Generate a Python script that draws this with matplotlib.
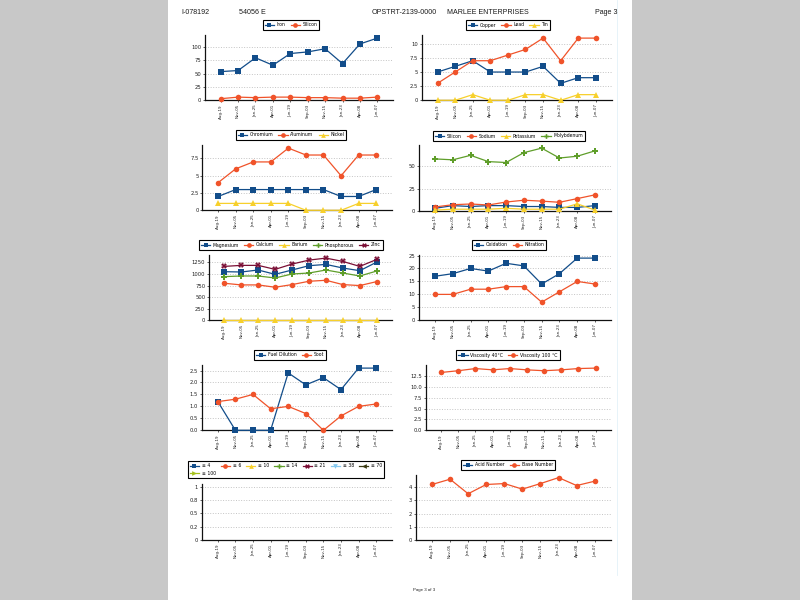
import matplotlib
matplotlib.use('Agg')
import numpy as np
import matplotlib.pyplot as plt
from matplotlib.patches import Rectangle
from matplotlib.lines import Line2D

# ---------------- data ----------------
dates = ['Aug-19', 'Nov-05', 'Jan-25', 'Apr-01', 'Jun-19', 'Sep-03', 'Nov-15', 'Jan-23', 'Apr-08', 'Jun-07']
N = None

iron = [54, 56, 80, 66, 88, 91, 97, 69, 106, 117]
silicon = [3, 6, 5, 6, 6, 5, 5, 4, 4, 6]

copper = [5, 6, 7, 5, 5, 5, 6, 3, 4, 4]
lead = [3, 5, 7, 7, 8, 9, 11, 7, 11, 11]
tin = [0, 0, 1, 0, 0, 1, 1, 0, 1, 1]

chromium = [2, 3, 3, 3, 3, 3, 3, 2, 2, 3]
aluminum = [4, 6, 7, 7, 9, 8, 8, 5, 8, 8]
nickel = [1, 1, 1, 1, 1, 0, 0, 0, 1, 1]

silicon2 = [3, 6, 5, 6, 6, 5, 5, 4, 4, 6]
sodium = [4.5, 7, 7.8, 6.7, 10, 12, 11, 9.7, 13.8, 18]
potassium = [1, 2, 2, 2, 3, 2, 2, 2, 8, 1]
molybdenum = [58, 57, 62, 55, 54, 65, 70, 59, 61, 67]

magnesium = [1050, 1043, 1086, 993, 1086, 1179, 1207, 1129, 1071, 1257]
calcium = [800, 764, 764, 714, 771, 843, 864, 771, 750, 836]
barium = [0, 0, 0, 0, 0, 0, 0, 0, 0, 0]
phosphorous = [943, 957, 957, 914, 1000, 1021, 1086, 1021, 957, 1064]
zinc = [1164, 1186, 1186, 1100, 1214, 1300, 1343, 1271, 1164, 1314]

oxidation = [17, 18, 20, 19, 22, 21, 14, 18, 24, 24]
nitration = [10, 10, 12, 12, 13, 13, 7, 11, 15, 14]

fuel_dilution = [1.2, 0, 0, 0, 2.4, 1.9, 2.2, 1.7, 2.6, 2.6]
soot = [1.2, 1.3, 1.5, 0.9, 1.0, 0.7, 0.0, 0.6, 1.0, 1.1]

visc40 = [N] * 10
visc100 = [13.3, 13.7, 14.2, 13.9, 14.2, 13.9, 13.7, 13.9, 14.2, 14.3]

pc4 = [N] * 10
pc6 = [N] * 10
pc10 = [N] * 10
pc14 = [N] * 10
pc21 = [N] * 10
pc38 = [N] * 10
pc70 = [N] * 10
pc100 = [N] * 10

acid_number = [N] * 10
base_number = [4.2, 4.6, 3.5, 4.2, 4.27, 3.85, 4.27, 4.72, 4.12, 4.45]

header_texts = ['I-078192', '54056 E', 'OPSTRT-2139-0000', 'MARLEE ENTERPRISES', 'Page 3']
footer_text = 'Page 3 of 3'

# tick values / labels
yt1 = [0, 25, 50, 75, 100]
yt2 = [0, 2.5, 5, 7.5, 10]
yt3 = [0, 2.5, 5, 7.5]
yt4 = [0, 25, 50]
yt5 = [0, 250, 500, 750, 1000, 1250]
yt6 = [0, 5, 10, 15, 20, 25]
yt7 = [0.0, 0.5, 1.0, 1.5, 2.0, 2.5]
yt8 = [0.0, 2.5, 5.0, 7.5, 10.0, 12.5]
yt9 = [0, 0.25, 0.5, 0.75, 1]
yl9 = ['0', '0.2', '0.5', '0.8', '1']
yt10 = [0, 1, 2, 3, 4]

# ---------------- styling ----------------
BLUE = '#124d8a'
ORANGE = '#f0532a'
YELLOW = '#f7d02c'
GREEN = '#5f9e2a'
MAROON = '#7a0f35'
LBLUE = '#86c9ef'
OLIVE = '#3b3a12'
YGREEN = '#a6c21c'

W, H = 800, 600
fig = plt.figure(figsize=(8, 6), dpi=100)
fig.patch.set_facecolor('#c8c8c8')
fig.patches.append(Rectangle((168 / W, 0), (632 - 168) / W, 1, transform=fig.transFigure,
                             facecolor='white', edgecolor='none', zorder=-5))
fig.add_artist(Line2D([617 / W, 617 / W], [1 - 0 / H, 1 - 575 / H], transform=fig.transFigure,
                      color='#e3f1f8', lw=0.6, zorder=-4))


def fmt(v):
    return ('%g' % v)


def panel(box, series, yticks, ylabels, ymax_val, leg_center, ncol=None, order=None):
    l, t, r, b = box
    ax = fig.add_axes([l / W, 1 - b / H, (r - l) / W, (b - t) / H])
    ax.set_zorder(1)
    x = np.arange(len(dates))
    handles = []
    for lab, vals, col, mk, ms in series:
        y = np.array([np.nan if v is None else v for v in vals], dtype=float)
        h, = ax.plot(x, y, color=col, marker=mk, markersize=ms, lw=0.9,
                     markeredgewidth=0, clip_on=False, zorder=3)
        handles.append(h)
    ax.set_xlim(-0.9, 9.9)
    ax.set_ylim(0, ymax_val)
    ax.set_xticks(x)
    ax.set_xticklabels(dates, rotation=90, fontsize=2.9)
    ax.set_yticks(yticks)
    ax.set_yticklabels(ylabels, fontsize=3.8)
    ax.tick_params(axis='both', length=1.5, width=0.5, pad=1.2, colors='#222222')
    for s in ['top', 'right']:
        ax.spines[s].set_visible(False)
    for s in ['left', 'bottom']:
        ax.spines[s].set_linewidth(0.9)
        ax.spines[s].set_color('#111111')
    ax.grid(axis='y', linestyle=':', color='#c4c4c4', lw=0.7)
    ax.set_axisbelow(True)
    ax.set_facecolor('none')
    labels = [s[0] for s in series]
    if order is not None:
        handles = [handles[i] for i in order]
        labels = [labels[i] for i in order]
    cx, cy = leg_center
    leg = fig.legend(handles, labels, loc='center',
                     bbox_to_anchor=(cx / W, 1 - cy / H), ncol=ncol or len(series),
                     fontsize=3.3, frameon=True, fancybox=False, edgecolor='black',
                     framealpha=1, borderpad=0.45, columnspacing=1.1, handlelength=2.0,
                     handletextpad=0.6, borderaxespad=0, markerscale=0.85)
    leg.get_frame().set_linewidth(0.8)
    leg.set_zorder(5)
    return ax


MS_S, MS_O = 3.8, 4.0

panel((205, 35, 393, 100.3),
      [('Iron', iron, BLUE, 's', MS_S), ('Silicon', silicon, ORANGE, 'o', MS_O)],
      yt1, [fmt(v) for v in yt1], max(iron) * 1.05, (291, 25))

panel((421.7, 35, 611.7, 100.3),
      [('Copper', copper, BLUE, 's', MS_S), ('Lead', lead, ORANGE, 'o', MS_O), ('Tin', tin, YELLOW, '^', MS_O)],
      yt2, [fmt(v) for v in yt2], max(lead) * 1.05, (508, 25))

panel((202.3, 145, 392, 210.3),
      [('Chromium', chromium, BLUE, 's', MS_S), ('Aluminum', aluminum, ORANGE, 'o', MS_O),
       ('Nickel', nickel, YELLOW, '^', MS_O)],
      yt3, [fmt(v) for v in yt3], max(aluminum) * 1.05, (291, 135))

panel((419, 145, 611, 211),
      [('Silicon', silicon2, BLUE, 's', MS_S), ('Sodium', sodium, ORANGE, 'o', MS_O),
       ('Potassium', potassium, YELLOW, '^', MS_O), ('Molybdenum', molybdenum, GREEN, 'P', MS_O)],
      yt4, [fmt(v) for v in yt4], max(molybdenum) * 1.05, (509, 136))

panel((209, 255, 392, 320.3),
      [('Magnesium', magnesium, BLUE, 's', MS_S), ('Calcium', calcium, ORANGE, 'o', MS_O),
       ('Barium', barium, YELLOW, '^', MS_O), ('Phosphorous', phosphorous, GREEN, 'P', MS_O),
       ('Zinc', zinc, MAROON, 'X', MS_O)],
      yt5, [fmt(v) for v in yt5], max(zinc) * 1.05, (291, 245))

panel((419, 255, 611, 320.3),
      [('Oxidation', oxidation, BLUE, 's', MS_S), ('Nitration', nitration, ORANGE, 'o', MS_O)],
      yt6, [fmt(v) for v in yt6], max(oxidation) * 1.05, (509, 245))

panel((202, 365, 392, 430.3),
      [('Fuel Dilution', fuel_dilution, BLUE, 's', MS_S), ('Soot', soot, ORANGE, 'o', MS_O)],
      yt7, ['%.1f' % v for v in yt7], max(fuel_dilution) * 1.05, (290, 355))

panel((425.7, 365, 611, 430.3),
      [('Viscosity 40°C', visc40, BLUE, 's', MS_S), ('Viscosity 100 °C', visc100, ORANGE, 'o', MS_O)],
      yt8, ['%.1f' % v for v in yt8], max(visc100) * 1.05, (508, 355))

panel((202, 484, 392, 540),
      [('≥ 4', pc4, BLUE, 's', MS_S), ('≥ 6', pc6, ORANGE, 'o', MS_O), ('≥ 10', pc10, YELLOW, '^', MS_O),
       ('≥ 14', pc14, GREEN, 'P', MS_O), ('≥ 21', pc21, MAROON, 'X', MS_O), ('≥ 38', pc38, LBLUE, 'v', MS_O),
       ('≥ 70', pc70, OLIVE, '<', MS_O), ('≥ 100', pc100, YGREEN, '>', MS_O)],
      yt9, yl9, 1.05, (286, 469.5), ncol=7, order=[0, 7, 1, 2, 3, 4, 5, 6])

panel((415.7, 474.5, 611, 540),
      [('Acid Number', acid_number, BLUE, 's', MS_S), ('Base Number', base_number, ORANGE, 'o', MS_O)],
      yt10, [fmt(v) for v in yt10], max(base_number) * 1.05, (508, 465))

# header / footer
hx = [181, 239, 371.5, 447.5, 595]
for txt, xp in zip(header_texts, hx):
    fig.text(xp / W, 1 - 13 / H, txt, fontsize=5.1, family='Liberation Sans', color='#1a1a1a',
             ha='left', va='center')
fig.text(424 / W, 1 - 590 / H, footer_text, fontsize=3.2, family='Liberation Sans',
         color='#222222', ha='center', va='center')

fig.savefig('out.png', dpi=100, facecolor=fig.get_facecolor())
